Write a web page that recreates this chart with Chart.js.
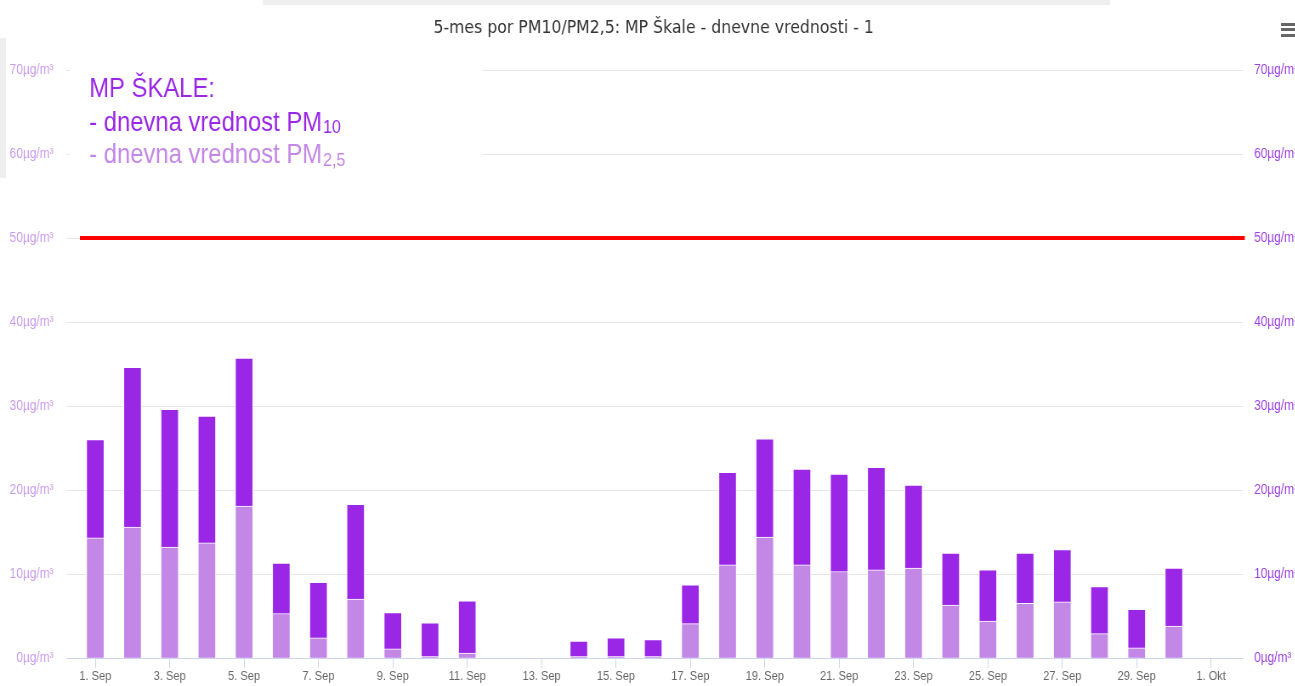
<!DOCTYPE html>
<html lang="sl">
<head>
    <meta charset="UTF-8">
    <title>5-mes por PM10/PM2,5: MP Škale</title>
    <script src="https://cdn.jsdelivr.net/npm/chart.js"></script>
    <style>
        body { margin: 0; background: #fff; overflow: hidden; }
        /* the screenshot is squeezed horizontally, so the chart is drawn wider and scaled down */
        #wrap { position: absolute; left: 0; top: 0; width: 1524px; height: 686px; transform: scaleX(0.85); transform-origin: 0 0; }
        .shade { position: absolute; background: #efefef; }
        .bar { position: absolute; left: 1281px; width: 16px; height: 3px; background: #666; }
    </style>
</head>
<body>
    <div id="wrap"><canvas id="chart"></canvas></div>
    <div class="shade" style="left:263px; top:0; width:847px; height:5px;"></div>
    <div class="shade" style="left:0; top:38px; width:6px; height:140px;"></div>
    <div class="bar" style="top:23px"></div>
    <div class="bar" style="top:28px"></div>
    <div class="bar" style="top:34px"></div>

    <script>
        const days = ["1. Sep", "2. Sep", "3. Sep", "4. Sep", "5. Sep", "6. Sep", "7. Sep", "8. Sep",
            "9. Sep", "10. Sep", "11. Sep", "12. Sep", "13. Sep", "14. Sep", "15. Sep", "16. Sep",
            "17. Sep", "18. Sep", "19. Sep", "20. Sep", "21. Sep", "22. Sep", "23. Sep", "24. Sep",
            "25. Sep", "26. Sep", "27. Sep", "28. Sep", "29. Sep", "30. Sep", "1. Okt"];
        const pm10 = [26.0, 34.6, 29.6, 28.8, 35.7, 11.3, 9.0, 18.3, 5.4, 4.2, 6.8, null, null, 2.0, 2.4, 2.2,
            8.7, 22.1, 26.1, 22.5, 21.9, 22.7, 20.6, 12.5, 10.5, 12.5, 12.9, 8.5, 5.8, 10.7, null];
        const pm25 = [14.3, 15.6, 13.2, 13.7, 18.1, 5.3, 2.4, 7.0, 1.1, 0.2, 0.6, null, null, 0.2, 0.2, 0.2,
            4.1, 11.1, 14.4, 11.1, 10.3, 10.5, 10.7, 6.3, 4.4, 6.5, 6.7, 2.9, 1.2, 3.8, null];
        const tickDays = [0, 2, 4, 6, 8, 10, 12, 14, 16, 18, 20, 22, 24, 26, 28, 30];
        const yTicks = [0, 10, 20, 30, 40, 50, 60, 70];
        const limit = 50;

        const title = "5-mes por PM10/PM2,5: MP Škale - dnevne vrednosti - 1";
        const dark = "#9b27e6";
        const light = "#c387e6";

        function points(values) {
            return values.map((v, i) => ({ x: i, y: v }));
        }

        const overlay = {
            id: "overlay",
            beforeDatasetsDraw(chart) {
                const ctx = chart.ctx;
                ctx.save();
                ctx.fillStyle = "#fff";
                ctx.fillRect(82, 55, 486, 128);
                ctx.textBaseline = "alphabetic";
                ctx.textAlign = "left";
                ctx.font = "28px 'Liberation Sans', Arial, sans-serif";
                ctx.fillStyle = dark;
                ctx.fillText("MP ŠKALE:", 105, 97);
                let line = "- dnevna vrednost PM";
                ctx.fillText(line, 105, 131);
                let w = ctx.measureText(line).width;
                ctx.fillStyle = light;
                ctx.fillText(line, 105, 163);
                ctx.font = "19px 'Liberation Sans', Arial, sans-serif";
                ctx.fillStyle = dark;
                ctx.fillText("10", 106 + w, 133);
                ctx.fillStyle = light;
                ctx.fillText("2,5", 106 + w, 166);
                ctx.restore();
            },
            afterDatasetsDraw(chart) {
                const ctx = chart.ctx;
                const y = chart.scales.y.getPixelForValue(limit);
                ctx.save();
                ctx.strokeStyle = "#ff0000";
                ctx.lineWidth = 4;
                ctx.beginPath();
                ctx.moveTo(94, y);
                ctx.lineTo(chart.chartArea.right + 2, y);
                ctx.stroke();
                ctx.restore();
            },
            afterDraw(chart) {
                const ctx = chart.ctx;
                ctx.save();
                ctx.font = "18.5px 'DejaVu Sans', sans-serif";
                ctx.fillStyle = "#333333";
                ctx.textAlign = "center";
                ctx.textBaseline = "alphabetic";
                ctx.fillText(title, 769, 33);
                ctx.restore();
            }
        };

        const yTickOpts = (color, pad) => ({
            color: color,
            padding: pad,
            font: { family: "'Liberation Sans', Arial, sans-serif", size: 14 },
            callback: v => v + "µg/m³"
        });

        new Chart(document.getElementById("chart"), {
            type: "bar",
            data: {
                datasets: [{
                    label: "PM2,5",
                    data: points(pm25),
                    backgroundColor: light,
                    order: 0
                }, {
                    label: "PM10",
                    data: points(pm10),
                    backgroundColor: dark,
                    order: 1
                }]
            },
            options: {
                responsive: true,
                maintainAspectRatio: false,
                animation: false,
                layout: { padding: { top: 70, left: 0, right: 0, bottom: 0 } },
                datasets: {
                    bar: {
                        grouped: false,
                        barThickness: 21,
                        borderWidth: 1,
                        borderColor: "#ffffff"
                    }
                },
                plugins: {
                    legend: { display: false },
                    tooltip: { enabled: false },
                    title: { display: false }
                },
                scales: {
                    x: {
                        type: "linear",
                        min: -0.78,
                        max: 30.86,
                        offset: false,
                        afterBuildTicks: s => { s.ticks = tickDays.map(v => ({ value: v })); },
                        afterFit: s => { s.height = 28; },
                        grid: { offset: false, drawOnChartArea: false, drawTicks: true, tickLength: 10, tickColor: "#ccd6eb" },
                        border: { color: "#ccd6eb", width: 1 },
                        ticks: {
                            color: "#666666",
                            padding: 1,
                            maxRotation: 0,
                            autoSkip: false,
                            font: { family: "'Liberation Sans', Arial, sans-serif", size: 13 },
                            callback: v => days[v]
                        }
                    },
                    y: {
                        position: "left",
                        min: 0,
                        max: 70,
                        afterBuildTicks: s => { s.ticks = yTicks.map(v => ({ value: v })); },
                        afterFit: s => { s.width = 78; },
                        grid: { color: "#e6e6e6", drawTicks: false },
                        border: { display: false },
                        ticks: yTickOpts("#c79bea", 15)
                    },
                    y2: {
                        position: "right",
                        min: 0,
                        max: 70,
                        afterBuildTicks: s => { s.ticks = yTicks.map(v => ({ value: v })); },
                        afterFit: s => { s.width = 61.6; },
                        grid: { display: false, drawTicks: false },
                        border: { display: false },
                        ticks: yTickOpts("#9a3ee0", 13)
                    }
                }
            },
            plugins: [overlay]
        });
    </script>
</body>
</html>
